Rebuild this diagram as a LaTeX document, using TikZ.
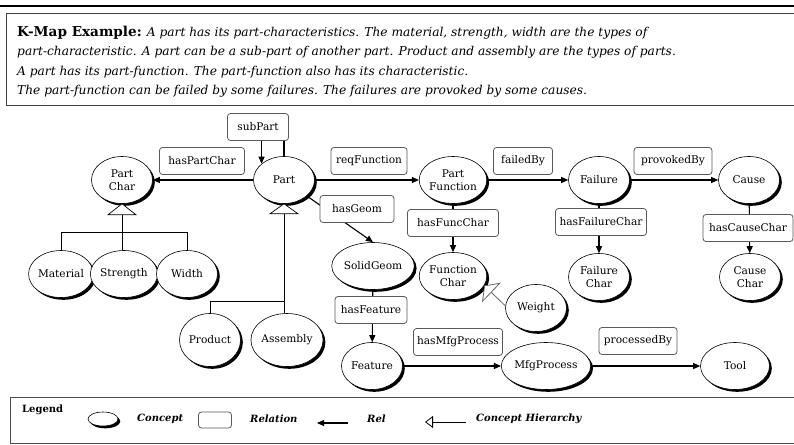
\documentclass[tikz,border=0pt]{standalone}
\usepackage{fontspec}
\setmainfont{DejaVu Serif}
\usetikzlibrary{shapes.geometric,arrows.meta,shadows,calc}
\newcommand\kmnodefont{\fontsize{10.6}{13.5}\selectfont}
\newcommand\kmhdrfont{\fontsize{12.2}{17}\selectfont}
\newcommand\kmhdrbold{\fontsize{13.6}{17}\selectfont\bfseries}
\newcommand\kmlegfont{\fontsize{10}{13}\selectfont\bfseries}
\begin{document}
\begin{tikzpicture}[x=1pt,y=-1pt,
  concept/.style={ellipse, draw, line width=0.6pt, fill=white, minimum width=61pt, minimum height=47pt,
    inner sep=0pt, align=center, font=\kmnodefont,
    drop shadow={shadow xshift=2.3pt, shadow yshift=-2.3pt, fill=black, opacity=1}},
  relation/.style={rectangle, rounded corners=3pt, draw=black!65, line width=0.8pt, fill=white,
    minimum height=27pt, inner sep=0pt, font=\kmnodefont},
  rel/.style={line width=1.1pt, -{Triangle[length=7pt,width=6pt]}},
  link/.style={line width=0.8pt},
  hier/.style={line width=0.7pt, fill=white},
  hdr/.style={anchor=base west, inner sep=0pt, font=\kmhdrfont}]
\useasboundingbox (0,0) rectangle (794,444);
% header
\draw[line width=2.2pt] (0,6) -- (794,6);
\draw[line width=0.8pt, draw=black!75] (794,13) -- (6,13) -- (6,105) -- (794,105);
\node[hdr] (h1) at (17,37) {{\kmhdrbold K-Map Example:} \textit{A part has its part-characteristics. The material, strength, width are the types of}};
\node[hdr] (h2) at (17,56) {\textit{part-characteristic. A part can be a sub-part of another part. Product and assembly are the types of parts.}};
\node[hdr] (h3) at (17,75) {\textit{A part has its part-function. The part-function also has its characteristic.}};
\node[hdr] (h4) at (17,94) {\textit{The part-function can be failed by some failures. The failures are provoked by some causes.}};
% concepts
\node[concept] (PartChar) at (122,180) {Part\\Char};
\node[concept] (Part) at (284,180) {Part};
\node[concept] (PartFunction) at (453,180) {Part\\Function};
\node[concept] (Failure) at (599,180) {Failure};
\node[concept] (Cause) at (749,180) {Cause};
\node[concept] (Material) at (61,274) {Material};
\node[concept] (Strength) at (124,274) {Strength};
\node[concept] (Width) at (187,274) {Width};
\node[concept] (SolidGeom) at (373,266) {SolidGeom};
\node[concept] (FunctionChar) at (453,276) {Function\\Char};
\node[concept] (FailureChar) at (599,277) {Failure\\Char};
\node[concept] (CauseChar) at (750,277) {Cause\\Char};
\node[concept] (Weight) at (536,308) {Weight};
\node[concept, minimum height=53pt] (Product) at (210,340) {Product};
\node[concept, minimum height=53pt] (Assembly) at (287,340) {Assembly};
\node[concept] (Feature) at (372,366) {Feature};
\node[concept, minimum width=78pt] (MfgProcess) at (546,366) {MfgProcess};
\node[concept, minimum width=69pt] (Tool) at (735,366) {Tool};
% hierarchy trees
\draw[hier] (PartChar.south) -- ++(-14,11) -- ++(28,0) -- cycle;
\coordinate (pcT) at ($(PartChar.south)+(0,11)$);
\coordinate (pcJ) at ($(PartChar.south)+(0,29)$);
\draw[link] (pcT) -- (pcJ);
\draw[link] (Material.north) |- (pcJ) -| (Width.north);
\draw[link] (pcJ) -- (pcJ |- Strength.north);
\draw[hier] (Part.south) -- ++(-14,10) -- ++(28,0) -- cycle;
\coordinate (pT) at ($(Part.south)+(0,10)$);
\coordinate (pJ) at ($(Part.south)+(0,98)$);
\draw[link] (pT) -- (pJ);
\draw[link] (Product.north) |- (pJ);
\draw[link] (pJ) -- (pJ |- Assembly.north);
\draw[line width=0.8pt, draw=black!60, -{Triangle[open, length=10pt, width=27pt, fill=white]}] (Weight.176) -- (FunctionChar.-17);
% relation connectors
\node[relation, minimum width=61pt] (subPartR) at (258,127) {subPart};
\draw[rel] (subPartR.south -| Part.144) -- (Part.144);
\draw[link, line width=1.1pt] (subPartR.south -| Part.north) -- (Part.north);
\draw[rel] (Part) -- (PartChar);
\draw[rel] (Part) -- (PartFunction);
\draw[rel] (PartFunction) -- (Failure);
\draw[rel] (Failure) -- (Cause);
\draw[rel] (Part) -- (SolidGeom.north);
\draw[rel] (PartFunction) -- (FunctionChar);
\draw[rel] (Failure) -- (FailureChar);
\draw[rel] (Cause) -- (CauseChar);
\draw[rel] (SolidGeom) -- (Feature);
\draw[rel] (Feature) -- (MfgProcess);
\draw[rel] (MfgProcess) -- (Tool);
% relation boxes
\node[relation, minimum width=85pt] (rHPC) at (202,161) {hasPartChar};
\node[relation, minimum width=76pt] (rRF) at (369,161) {reqFunction};
\node[relation, minimum width=59pt] (rFB) at (523,161) {failedBy};
\node[relation, minimum width=78pt] (rPB) at (673,161) {provokedBy};
\node[relation, minimum width=74pt] (rHG) at (357,209) {hasGeom};
\node[relation, minimum width=91pt] (rHFC) at (453,223) {hasFuncChar};
\node[relation, minimum width=91pt] (rHFaC) at (601,222) {hasFailureChar};
\node[relation, minimum width=90pt] (rHCC) at (748,228) {hasCauseChar};
\node[relation, minimum width=72pt] (rHF) at (371,310) {hasFeature};
\node[relation, minimum width=89pt] (rHMP) at (458,342) {hasMfgProcess};
\node[relation, minimum width=78pt] (rPrB) at (638,341) {processedBy};
% legend
\draw[line width=0.8pt, draw=black!70] (794,397) -- (10,397) -- (10,443) -- (794,443);
\node[anchor=base west, inner sep=0pt, font=\kmlegfont] (lgT) at (22,412) {Legend};
\node[concept, minimum width=30pt, minimum height=14pt,
  drop shadow={shadow xshift=1.6pt, shadow yshift=-1.6pt, fill=black, opacity=1}] (lgC) at (103,419) {};
\node[anchor=west, inner sep=0pt, font=\kmlegfont\itshape] (lgCt) at (137,419) {Concept};
\node[relation, minimum width=33pt, minimum height=16pt] (lgR) at (215,420) {};
\node[anchor=west, inner sep=0pt, font=\kmlegfont\itshape] (lgRt) at (250,419) {Relation};
\coordinate (lgA1) at (348,423);
\coordinate (lgA2) at (317,423);
\draw[rel] (lgA1) -- (lgA2);
\node[anchor=west, inner sep=0pt, font=\kmlegfont\itshape] (lgAt) at (367,419) {Rel};
\coordinate (lgH1) at (466,422);
\coordinate (lgH2) at (425,422);
\draw[line width=0.8pt, -{Triangle[open, length=8pt, width=12pt, fill=white]}] (lgH1) -- (lgH2);
\node[anchor=west, inner sep=0pt, font=\kmlegfont\itshape] (lgHt) at (476,419) {Concept Hierarchy};
\end{tikzpicture}
\end{document}
